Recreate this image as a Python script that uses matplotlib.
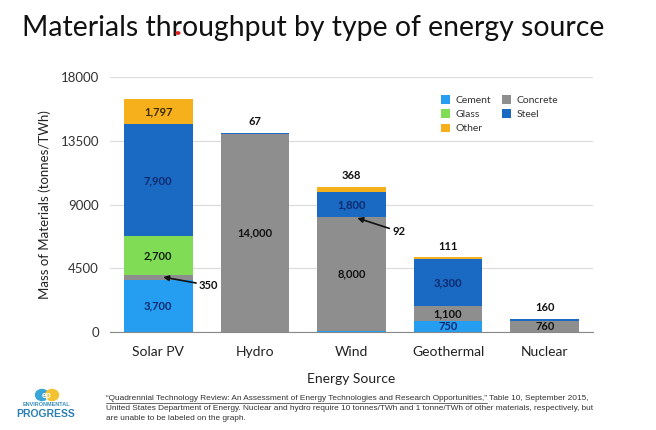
import matplotlib
matplotlib.use("Agg")
import matplotlib.pyplot as plt
from matplotlib.patches import Circle, Ellipse
import numpy as np

categories = ["Solar PV", "Hydro", "Wind", "Geothermal", "Nuclear"]
materials = ["Cement", "Concrete", "Glass", "Steel", "Other"]
cement   = [3700, 0, 92, 750, 0]
concrete = [350, 14000, 8000, 1100, 760]
glass    = [2700, 0, 0, 0, 0]
steel    = [7900, 67, 1800, 3300, 160]
other    = [1797, 0, 368, 111, 0]
yticks = [0, 4500, 9000, 13500, 18000]

colors = {"Cement": "#259ef2", "Concrete": "#8e8e8e", "Glass": "#80dc55",
          "Steel": "#1a69c2", "Other": "#f5b01c"}
label_colors = {"Cement": "#0d2a6e", "Concrete": "#111111", "Glass": "#102010",
                "Steel": "#0d2a6e", "Other": "#3a2a00"}
series = {"Cement": cement, "Concrete": concrete, "Glass": glass,
          "Steel": steel, "Other": other}
stack_order = ["Cement", "Concrete", "Glass", "Steel", "Other"]

W, H = 656, 430
fig = plt.figure(figsize=(W / 100, H / 100), dpi=100)
fig.patch.set_facecolor("white")
plt.rcParams['font.family'] = ['Lato', 'DejaVu Sans']

ax = fig.add_axes([110 / W, 1 - 332 / H, (593 - 110) / W, (332 - 77) / H])
x = np.arange(len(categories))
bw = 0.71
bottom = np.zeros(len(categories))
bars = {}
for m in stack_order:
    vals = np.array(series[m], dtype=float)
    bars[m] = ax.bar(x, vals, bw, bottom=bottom, color=colors[m], label=m, zorder=3)
    bottom += vals
totals = bottom.copy()

ax.set_xlim(-0.5, 4.5)
ax.set_ylim(0, 18000)
ax.set_yticks(yticks)
ax.set_yticklabels([str(v) for v in yticks], fontsize=9.5, color="#333333")
ax.set_xticks(x)
ax.set_xticklabels(categories, fontsize=10, color="#222222")
ax.tick_params(axis="both", length=0, pad=8)
ax.tick_params(axis="x", pad=10)
ax.grid(axis="y", color="#dddddd", linewidth=0.9, zorder=0)
for s in ["top", "right", "left"]:
    ax.spines[s].set_visible(False)
ax.spines["bottom"].set_color("#888888")
ax.spines["bottom"].set_zorder(4)
ax.set_ylabel("Mass of Materials (tonnes/TWh)", fontsize=9.5, color="#222222", labelpad=7)
ax.set_xlabel("Energy Source", fontsize=10, color="#222222", labelpad=11)

# in-bar labels
inside = [
    ("Cement", 0), ("Glass", 0), ("Steel", 0), ("Other", 0),
    ("Concrete", 1), ("Concrete", 2), ("Steel", 2),
    ("Cement", 3), ("Concrete", 3), ("Steel", 3), ("Concrete", 4),
]
for m, i in inside:
    b = bars[m][i]
    yc = b.get_y() + b.get_height() / 2
    ax.text(b.get_x() + b.get_width() / 2, yc, f"{series[m][i]:,}", ha="center", va="center",
            fontsize=8, fontweight="bold", color=label_colors[m], zorder=5)

# top labels
top_labels = [(1, "Steel"), (2, "Other"), (3, "Other"), (4, "Steel")]
for i, m in top_labels:
    ax.annotate(f"{series[m][i]:,}", (x[i], totals[i]), xytext=(0, 4), textcoords="offset points",
                ha="center", va="bottom", fontsize=8, fontweight="bold", color="#111111")

# arrow annotations
ax.annotate(f"{concrete[0]:,}", xy=(0.05, cement[0] + concrete[0] / 2), xytext=(0.42, 3300),
            ha="left", va="center", fontsize=8, fontweight="bold", color="#111111",
            arrowprops=dict(arrowstyle="-|>", color="#111111", lw=1.2, mutation_scale=8,
                            shrinkA=0, shrinkB=0), zorder=6)
ax.annotate(f"{cement[2]:,}", xy=(2.06, concrete[2] + cement[2] / 2), xytext=(2.42, 7100),
            ha="left", va="center", fontsize=8, fontweight="bold", color="#111111",
            arrowprops=dict(arrowstyle="-|>", color="#111111", lw=1.2, mutation_scale=8,
                            shrinkA=0, shrinkB=0), zorder=6)

# legend
handles = [bars[m] for m in ["Cement", "Glass", "Other", "Concrete", "Steel"]]
labels = ["Cement", "Glass", "Other", "Concrete", "Steel"]
leg = fig.legend(handles, labels, ncol=2, loc="upper left",
                 bbox_to_anchor=(434 / W, 1 - 88 / H),
                 frameon=False, fontsize=7.5, handlelength=0.85, handleheight=0.85,
                 handletextpad=0.55, columnspacing=1.0, labelspacing=0.42,
                 borderpad=0.2)
for t in leg.get_texts():
    t.set_color("#333333")

# title
title = fig.text(22 / W, 1 - 28 / H, "Materials throughput by type of energy source",
                 fontsize=20, ha="left", va="center", color="#111111")
fig.canvas.draw()
r = fig.canvas.get_renderer()
bb = title.get_window_extent(r)
title.set_fontsize(20 * (583 / bb.width))
fig.patches.append(Circle((178 / W, 1 - 33 / H), 1.8 / W, transform=fig.transFigure,
                          color="#e02020", zorder=10))

# logo
fam = ["Liberation Sans", "DejaVu Sans"]
fig.patches.append(Ellipse((42 / W, 1 - 395 / H), 13 / W, 11 / H, transform=fig.transFigure,
                           color="#3aa6d8", zorder=10))
fig.patches.append(Ellipse((52 / W, 1 - 395 / H), 13 / W, 11 / H, transform=fig.transFigure,
                           color="#f2c230", zorder=10))
fig.text(47 / W, 1 - 395 / H, "ep", fontsize=6.5, fontweight="bold", color="white",
         ha="center", va="center", zorder=11)
t1 = fig.text(46 / W, 1 - 405 / H, "ENVIRONMENTAL", fontsize=4.0, fontweight="bold",
              color="#3a8fbf", ha="center", va="center", family=fam)
t2 = fig.text(46 / W, 1 - 414 / H, "PROGRESS", fontsize=7.5, fontweight="bold",
              color="#2a7fb5", ha="center", va="center", family=fam)

# footnote
fs = 6.0
p1 = "\u201cQuadrennial Technology Review: An Assessment of Energy Technologies and Research Opportunities,\u201d"
p1b = " Table 10, September 2015,"
l2 = "United States Department of Energy. Nuclear and hydro require 10 tonnes/TWh and 1 tonne/TWh of other materials, respectively, but"
l3 = "are unable to be labeled on the graph."
fx = 106 / W
t_l2 = fig.text(fx, 1 - 409 / H, l2, fontsize=fs, family=fam, color="#333333", ha="left", va="center")
fig.canvas.draw()
scale = (597 - 106) / t_l2.get_window_extent(r).width
fs = fs * scale
t_l2.set_fontsize(fs)
a = fig.text(fx, 1 - 399 / H, p1, fontsize=fs, family=fam, color="#333333", ha="left", va="center")
fig.canvas.draw()
ba = a.get_window_extent(r)
fig.text(ba.x1 / W, 1 - 399 / H, p1b, fontsize=fs, family=fam, color="#333333", ha="left", va="center")
fig.text(fx, 1 - 418 / H, l3, fontsize=fs, family=fam, color="#333333", ha="left", va="center")
uy = (ba.y0 - 0.3) / H
fig.add_artist(plt.Line2D([ba.x0 / W, ba.x1 / W], [uy, uy], transform=fig.transFigure,
                          color="#333333", lw=0.5))

fig.savefig("out.png", dpi=100, facecolor="white")
